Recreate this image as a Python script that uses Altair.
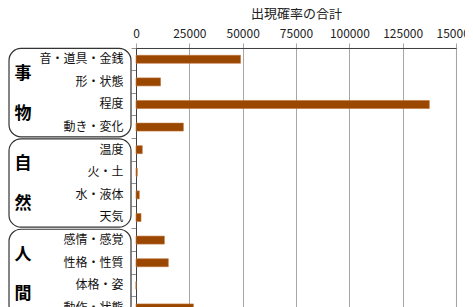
import altair as alt
import pandas as pd

categories = ["音・道具・金銭", "形・状態", "程度", "動き・変化",
              "温度", "火・土", "水・液体", "天気",
              "感情・感覚", "性格・性質", "体格・姿", "動作・状態"]
values = [49000, 11500, 137500, 22200,
          2950, 600, 1550, 2350,
          13300, 15150, 0, 26900]
groups = ["事物", "自然", "人間"]
group_start = [0, 4, 8]
group_end = [4, 8, 12]
x_ticks = [0, 25000, 50000, 75000, 100000, 125000, 150000]

FONT = "Noto Sans CJK JP"
n = len(categories)
row_h = 22.6
H = n * row_h

df = pd.DataFrame({"cat": categories, "val": values})
gdf = pd.DataFrame({
    "g": groups,
    "s": [s + 0.02 for s in group_start],
    "e": [e - 0.07 for e in group_end],
})
chars = []
for g, s, e in zip(groups, group_start, group_end):
    mid = (s + e) / 2
    chars.append({"ch": g[0], "pos": mid - 0.85})
    chars.append({"ch": g[1], "pos": mid + 0.9})
cdf = pd.DataFrame(chars)

qscale = alt.Scale(domain=[0, n], reverse=True, nice=False, zero=False)

boxes = alt.Chart(gdf).mark_rect(
    filled=False, stroke="#333333", strokeWidth=1.2, cornerRadius=12
).encode(
    x=alt.value(-127), x2=alt.value(-5),
    y=alt.Y("s:Q", scale=qscale, axis=None),
    y2="e:Q",
)

texts = alt.Chart(cdf).mark_text(
    font=FONT, fontSize=17, fontWeight="bold",
    color="#000000", baseline="middle", align="center"
).encode(
    x=alt.value(-113),
    y=alt.Y("pos:Q", scale=qscale, axis=None),
    text="ch:N",
)

bars = alt.Chart(df).mark_bar(
    size=8, color="#9a4700", stroke="#c0743a", strokeWidth=0.6
).encode(
    x=alt.X("val:Q", scale=alt.Scale(domain=[0, 150000], nice=False),
            axis=alt.Axis(orient="top", values=x_ticks, format="d",
                          title="出現確率の合計", grid=True,
                          gridColor="#a6a6a6", tickColor="#a6a6a6",
                          domainColor="#404040", tickSize=5,
                          labelPadding=2, titlePadding=7,
                          labelFontSize=12, titleFontSize=13,
                          labelOverlap=False, labelFlush=False,
                          labelColor="#222222", titleColor="#222222",
                          titleFontWeight="normal")),
    y=alt.Y("cat:N", sort=categories,
            scale=alt.Scale(paddingInner=0, paddingOuter=0),
            axis=alt.Axis(title=None, bandPosition=0, tickSize=5,
                          labelPadding=8, labelFontSize=12,
                          labelColor="#111111", tickColor="#909090",
                          domainColor="#404040", grid=False)),
)

chart = alt.layer(boxes, texts, bars).resolve_scale(y="independent").properties(
    width=320, height=H,
    autosize=alt.AutoSizeParams(type="none"),
    padding={"left": 128, "top": 40, "right": 9, "bottom": 0},
).configure_axis(
    labelFont=FONT, titleFont=FONT
).configure_view(stroke="#404040")

chart.save("out.html", embed_options={"renderer": "svg", "actions": False})
